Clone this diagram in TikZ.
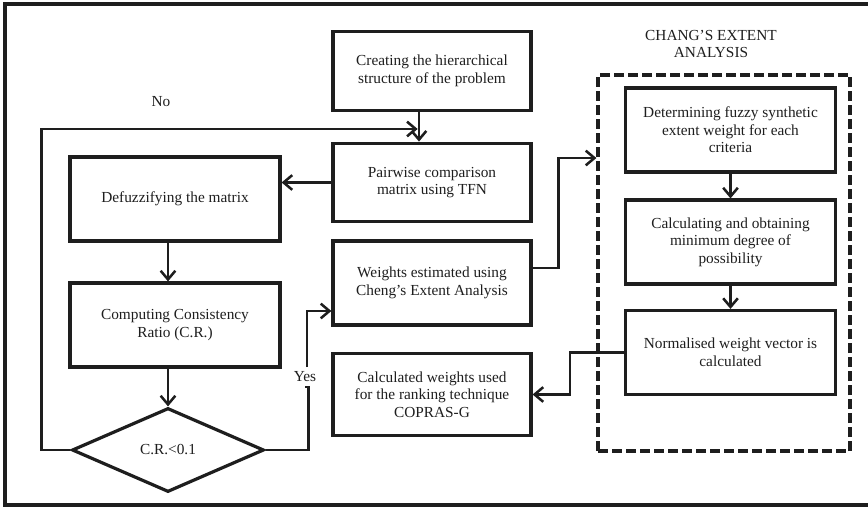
\documentclass[tikz,border=0pt]{standalone}
\usepackage{fontspec}
\setmainfont{Liberation Serif}
\usetikzlibrary{arrows.meta,shapes.geometric}
\definecolor{ink}{HTML}{1E1E1E}
\begin{document}
\begin{tikzpicture}[x=0.75pt,y=-0.75pt,
  font=\fontsize{11.5}{13.2}\selectfont,
  procbox/.style={draw=ink,line width=2.4pt,align=center,text=ink,inner sep=0pt,
    minimum width=148.5pt,minimum height=59pt},
  sidebox/.style={procbox,minimum width=157.5pt,minimum height=63pt},
  arr/.style={draw=ink,line width=1.9pt,-{Straight Barb[length=6.5pt,width=11pt,line width=1.9pt]}},
  link/.style={draw=ink,line width=1.9pt}]
\useasboundingbox (0,0) rectangle (868,507);
% outer frame
\draw[ink,line width=3.2pt] (5,4) rectangle (875,505);

% main column
\node[procbox] (cr) at (432,71) {Creating the hierarchical\\structure of the problem};
\node[procbox] (pw) at (432,182.5) {Pairwise comparison\\matrix using TFN};
\node[procbox,minimum height=63pt] (we) at (432,283) {Weights estimated using\\Cheng’s Extent Analysis};
\node[procbox,minimum height=62pt] (cw) at (432,394.5) {Calculated weights used\\for the ranking technique\\COPRAS-G};

% left column
\node[procbox,minimum width=157.5pt,minimum height=63pt] (df) at (175,199) {Defuzzifying the matrix};
\node[procbox,minimum width=157.5pt,minimum height=63pt] (cc) at (175,325) {Computing Consistency\\Ratio (C.R.)};
\node[draw=ink,line width=2.4pt,shape=diamond,inner sep=0pt,aspect=2.29,
  minimum width=144pt,minimum height=63pt,text=ink] (dia) at (168,450) {C.R.<0.1};

% Chang's extent analysis group
\node[draw=ink,line width=2.4pt,dash pattern=on 7.5pt off 3pt,
  minimum width=189pt,minimum height=282pt] (chang) at (724,263) {};
\node[align=center,text=ink] (ctitle) at (711,44) {CHANG’S EXTENT\\ANALYSIS};
\node[sidebox] (fs) at (730.5,130) {Determining fuzzy synthetic\\extent weight for each\\criteria};
\node[sidebox] (md) at (730.5,242) {Calculating and obtaining\\minimum degree of\\possibility};
\node[sidebox] (nw) at (730.5,352.5) {Normalised weight vector is\\calculated};

% connectors
\coordinate (join) at (419,129);
\draw[arr] ([xshift=-9.75pt]cr.south) -- ([xshift=-9.75pt]pw.north);
\draw[arr] (pw.west) -- (pw.west -| df.east);
\draw[arr] (df.south -| dia.north) -- (cc.north -| dia.north);
\draw[arr] (cc.south -| dia.north) -- (dia.north);
\draw[arr] (dia.west) -- ++(-29,0) |- ([xshift=-1pt]join);
\node[text=ink] (no) at (161,102) {No};
\node[text=ink] (yes) at (305,377) {Yes};
\draw[link] (dia.east) -- ++(43,0) |- (yes.south);
\coordinate (yturn) at (307,311);
\draw[arr] (yes.north -| yturn) -- (yturn) -- (yturn -| we.west);
\draw[arr] ([yshift=11.25pt]we.east) -- ++(26,0) |- (chang.west |- 0,158);
\draw[arr] (fs.south) -- (md.north);
\draw[arr] (md.south) -- (nw.north);
\draw[arr] (nw.west) -- ++(-54,0) |- (cw.east);
\end{tikzpicture}
\end{document}
